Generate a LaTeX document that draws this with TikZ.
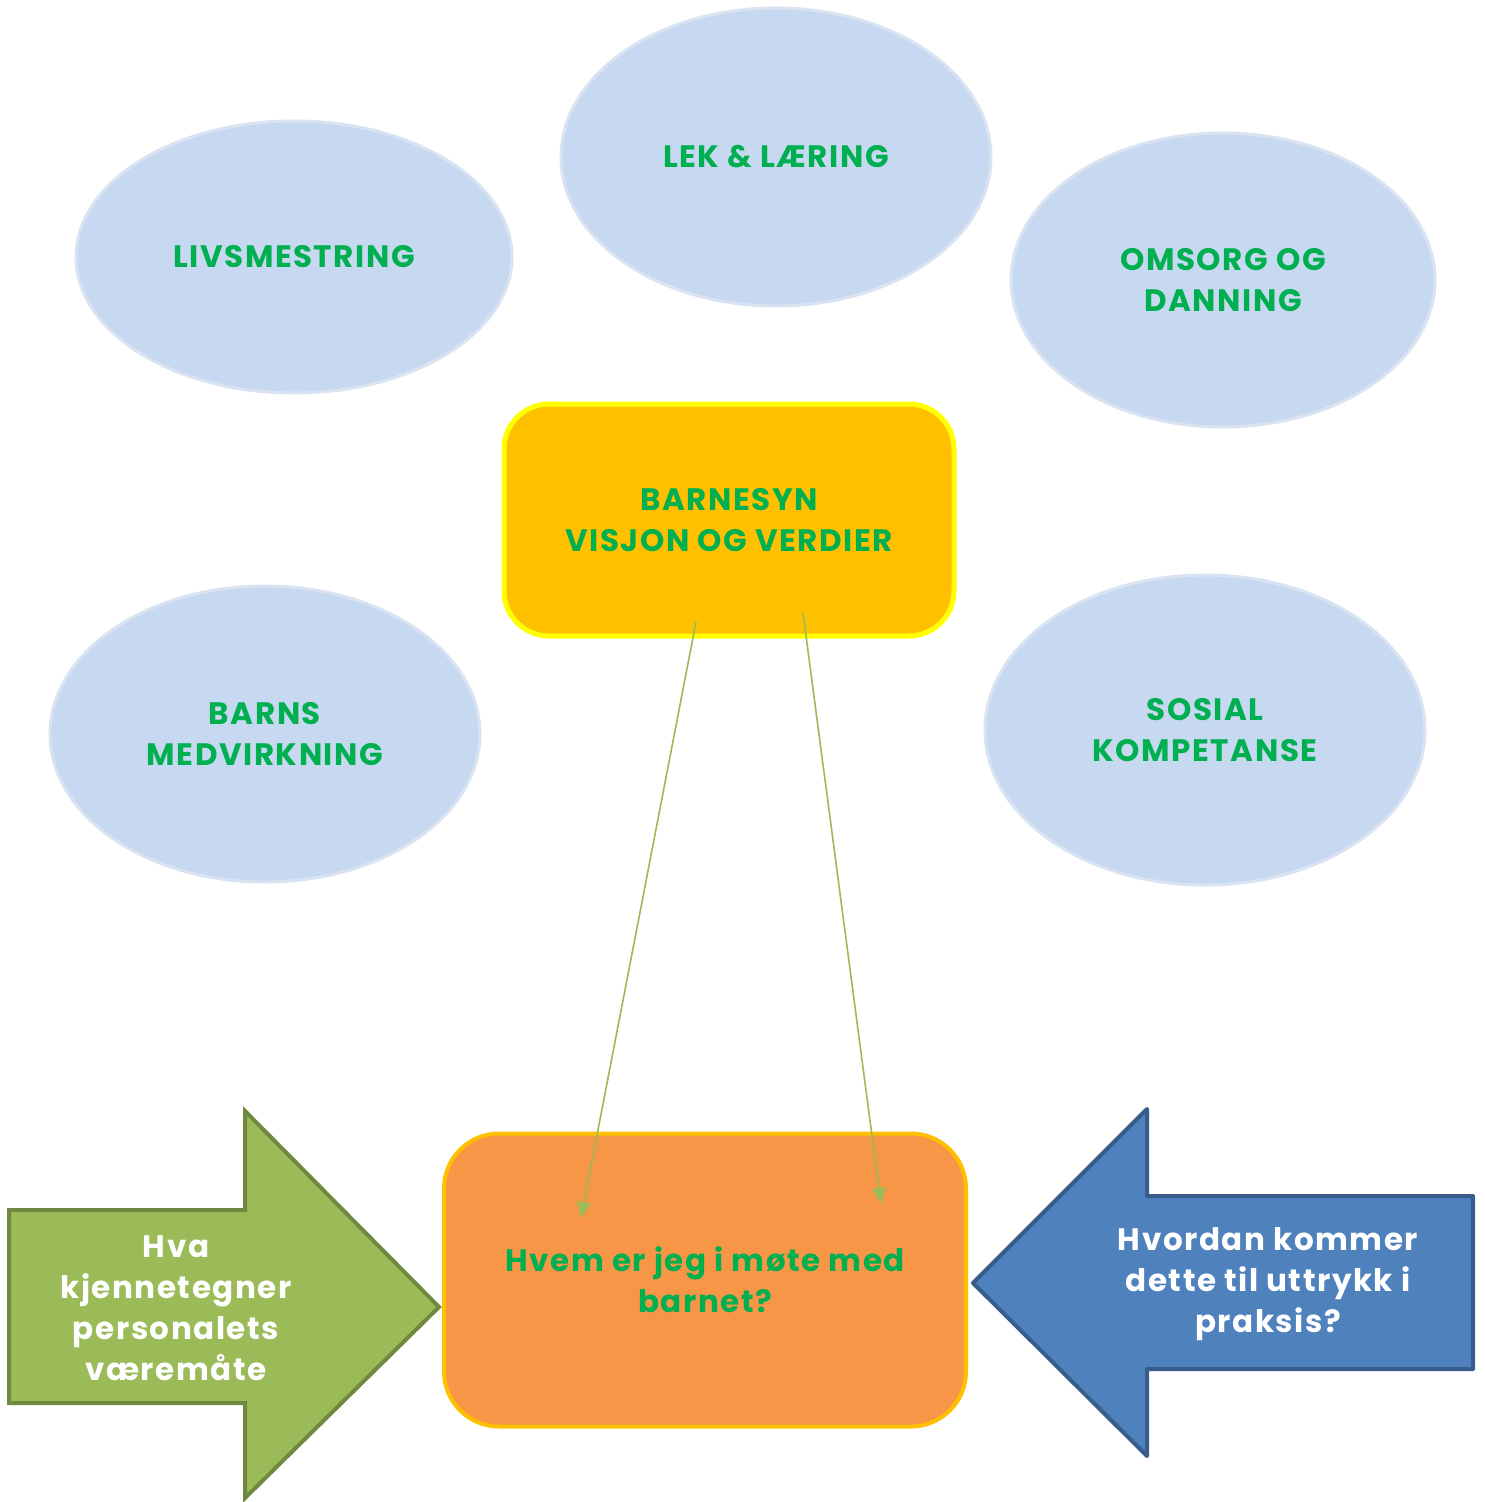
\documentclass[tikz,border=0pt]{standalone}
\usepackage{fontspec}
\setmainfont{Poppins}[LetterSpace=5]
\usetikzlibrary{shapes.geometric,arrows.meta}
\definecolor{ellfill}{HTML}{C6D9F1}
\definecolor{ellline}{HTML}{D9E3F2}
\definecolor{txtgreen}{HTML}{00B050}
\definecolor{boxyel}{HTML}{FFC000}
\definecolor{boxyelline}{HTML}{FFFF00}
\definecolor{boxor}{HTML}{F79646}
\definecolor{grfill}{HTML}{9BBB59}
\definecolor{grline}{HTML}{71893F}
\definecolor{blfill}{HTML}{4F81BD}
\definecolor{blline}{HTML}{385D8A}
\tikzset{
  bubble/.style={ellipse, fill=ellfill, draw=ellline, line width=3pt, inner sep=0pt,
    text=txtgreen, font=\fontsize{31}{41}\selectfont\bfseries, align=center},
  topbox/.style={rectangle, rounded corners=45pt, fill=boxyel, draw=boxyelline, line width=5pt,
    text=txtgreen, font=\fontsize{31}{41}\selectfont\bfseries, align=center},
  botbox/.style={rectangle, rounded corners=55pt, fill=boxor, draw=boxyel, line width=4pt,
    text=txtgreen, font=\fontsize{31}{41}\selectfont\bfseries, align=center},
  arrtext/.style={text=white, font=\fontsize{31}{41}\selectfont\bfseries, align=center},
  conn/.style={draw=grfill, line width=1.6pt, -{Triangle[length=16pt,width=14pt]}},
}
\begin{document}
\begin{tikzpicture}[x=1pt,y=-1pt]
\useasboundingbox[fill=white] (0,0) rectangle (1485,1502);

\node[bubble, minimum width=436pt, minimum height=272pt] (liv) at (294,257) {LIVSMESTRING};
\node[bubble, minimum width=430pt, minimum height=298pt] (lek) at (776,157) {LEK \& LÆRING};
\node[bubble, minimum width=424pt, minimum height=294pt] (oms) at (1223,280) {OMSORG OG\\DANNING};
\node[bubble, minimum width=430pt, minimum height=296pt] (barns) at (265,734) {BARNS\\MEDVIRKNING};
\node[bubble, minimum width=440pt, minimum height=310pt] (sos) at (1205,730) {SOSIAL\\KOMPETANSE};

\node[topbox, minimum width=450pt, minimum height=232pt] (syn) at (729,520) {BARNESYN\\VISJON OG VERDIER};
\node[botbox, minimum width=522pt, minimum height=293pt] (hvem) at (705,1280) {Hvem er jeg i møte med\\barnet?};

% green arrow
\draw[fill=grfill, draw=grline, line width=4pt, line join=miter]
  (9,1210) -- (245,1210) -- (245,1111) -- (439,1307) -- (245,1498) -- (245,1403) -- (9,1403) -- cycle;
\node[arrtext] (hva) at (176,1308) {Hva\\kjennetegner\\personalets\\væremåte};

% blue arrow
\draw[fill=blfill, draw=blline, line width=4pt, line join=round]
  (973,1283) -- (1147,1109) -- (1147,1196) -- (1473,1196) -- (1473,1369) -- (1147,1369) -- (1147,1456) -- cycle;
\node[arrtext] (hvordan) at (1268,1284) {Hvordan kommer\\dette til uttrykk i\\praksis?};

% connectors
\coordinate (c1s) at (696,622);
\coordinate (c1e) at (581,1218);
\coordinate (c2s) at (803,613);
\coordinate (c2e) at (881,1204);
\draw[conn] (c1s) -- (c1e);
\draw[conn] (c2s) -- (c2e);
\end{tikzpicture}
\end{document}
